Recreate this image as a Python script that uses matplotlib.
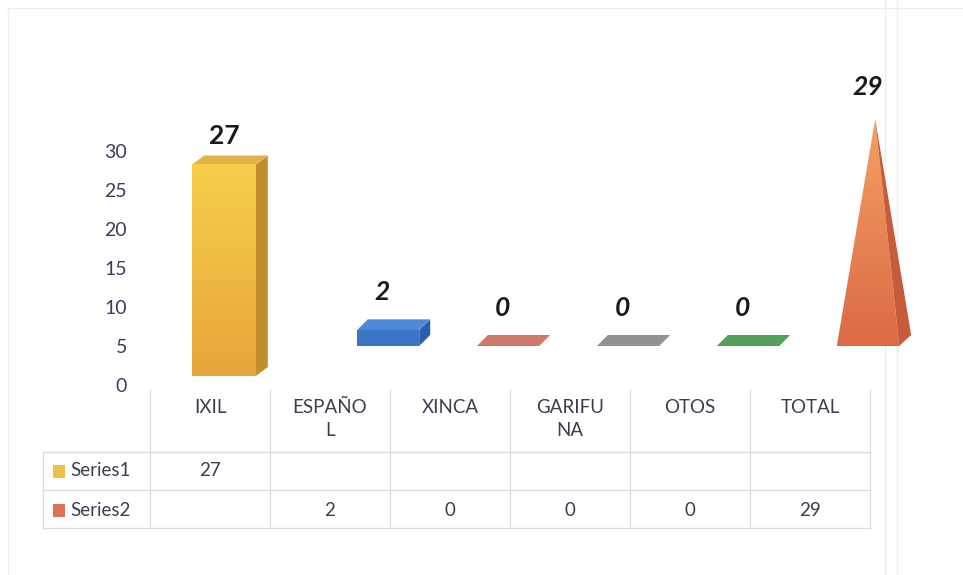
import numpy as np
import matplotlib
matplotlib.use("Agg")
import matplotlib.pyplot as plt
from matplotlib.patches import Polygon
from matplotlib.colors import LinearSegmentedColormap
from matplotlib.transforms import offset_copy

# datos
categories = ["IXIL", "ESPAÑO\nL", "XINCA", "GARIFU\nNA", "OTOS", "TOTAL"]
series1 = [27, None, None, None, None, None]
series2 = [None, 2, 0, 0, 0, 29]
series_names = ["Series1", "Series2"]
yticks = [0, 5, 10, 15, 20, 25, 30]

plt.rcParams["font.family"] = ["Lato", "DejaVu Sans"]

W, H = 963, 575
fig = plt.figure(figsize=(W / 100, H / 100), dpi=100, facecolor="white")

# ejes principales: 0 en y=387px, 30 en y=152px; columnas de 120px desde x=150
ax = fig.add_axes([150 / W, (H - 387) / H, 720 / W, (387 - 152) / H])
ax.set_xlim(-0.5, 5.5)
ax.set_ylim(0, 30)
ax.axis("off")
for t in yticks:
    ax.text(-0.5, t, str(t), transform=offset_copy(ax.transData, fig, x=-23, y=0, units="dots"),
            ha="right", va="center", fontsize=14, color="#3d3d5c")

PX_X = 120.0               # px por unidad x
PX_Y = (387 - 152) / 30.0  # px por unidad y
grad = np.linspace(0, 1, 100).reshape(-1, 1)


def box(tr, xc, v, w, dpx, dpy, front, top, side, z=3):
    """Columna 3D: cara frontal, superior y lateral."""
    ddx, ddy = dpx / PX_X, dpy / PX_Y
    x0, x1 = xc - w / 2, xc + w / 2
    if v > 0:
        ax.add_patch(Polygon([(x0, 0), (x1, 0), (x1, v), (x0, v)], closed=True,
                             fc=front, ec="none", transform=tr, clip_on=False, zorder=z))
        ax.add_patch(Polygon([(x1, 0), (x1 + ddx, ddy), (x1 + ddx, v + ddy), (x1, v)],
                             closed=True, fc=side, ec="none", transform=tr, clip_on=False, zorder=z))
    ax.add_patch(Polygon([(x0, v), (x1, v), (x1 + ddx, v + ddy), (x0 + ddx, v + ddy)],
                         closed=True, fc=top, ec="none", transform=tr, clip_on=False, zorder=z))


# Series1: columna amarilla (fila delantera)
tr1 = offset_copy(ax.transData, fig, x=14, y=11, units="dots")
for i, v in enumerate(series1):
    if v is None:
        continue
    w = 0.53
    x0, x1 = i - w / 2, i + w / 2
    ax.imshow(grad, cmap=LinearSegmentedColormap.from_list("y", ["#e8a53a", "#f6cf4c"]),
              origin="lower", extent=(x0, x1, 0, v), aspect="auto", transform=tr1,
              zorder=3, clip_on=False)
    box(tr1, i, v, w, 12, 9, "none", "#e2b448", "#c28d2c", z=2)
    ax.text(i, v, f"{v}", transform=offset_copy(ax.transData, fig, x=14, y=11 + 28, units="dots"),
            ha="center", va="center", fontsize=19, fontweight="bold", color="#1a1a1a")

# Series2: fila de fondo
tr2 = offset_copy(ax.transData, fig, x=58, y=41, units="dots")
flat_cols = ["#3c74c4", "#cc7462", "#8c8c8c", "#4f9a55"]
top_cols = ["#4f88d8", "#cf7a68", "#929292", "#55a05a"]
side_cols = ["#2d5fa8", "#b86352", "#7a7a7a", "#43874a"]
for i, v in enumerate(series2):
    if v is None:
        continue
    w = 0.52
    if i < 5:
        k = i - 1
        box(tr2, i, v, w, 11, 11, flat_cols[k], top_cols[k], side_cols[k])
        ax.text(i, v, f"{v}", transform=offset_copy(ax.transData, fig, x=52, y=41 + 38, units="dots"),
                ha="center", va="center", fontsize=19, fontweight="bold", style="italic",
                color="#1a1a1a")
    else:
        # piramide TOTAL
        x0, x1 = i - w / 2, i + w / 2
        apex = (i + 0.06, v)
        ddx, ddy = 12 / PX_X, 11 / PX_Y
        front = Polygon([(x0, 0), (x1, 0), apex], closed=True, fc="none", ec="none",
                        transform=tr2, clip_on=False)
        ax.add_patch(front)
        im = ax.imshow(grad, cmap=LinearSegmentedColormap.from_list("o", ["#dc6a45", "#f3a163"]),
                       origin="lower", extent=(x0, x1, 0, v), aspect="auto",
                       transform=tr2, zorder=3)
        im.set_clip_box(fig.bbox)
        im.set_clip_path(front)
        im.set_clip_on(True)
        ax.add_patch(Polygon([(x1, 0), (x1 + ddx, ddy), apex], closed=True, fc="#c65c3a",
                             ec="none", transform=tr2, clip_on=False, zorder=3))
        ax.text(i, v, f"{v}", transform=offset_copy(ax.transData, fig, x=58, y=41 + 32, units="dots"),
                ha="center", va="center", fontsize=19, fontweight="bold", style="italic",
                color="#1a1a1a")

ax.set_xlim(-0.5, 5.5)
ax.set_ylim(0, 30)

# tabla de datos
tab = fig.add_axes([0, 0, 1, 1], zorder=-1)
tab.set_xlim(0, W)
tab.set_ylim(H, 0)
tab.axis("off")
gc = "#dcdcdc"
edges = [150 + 120 * k for k in range(7)]
for x in edges:
    tab.plot([x, x], [390, 528], color=gc, lw=0.9)
tab.plot([43, 43], [452, 528], color=gc, lw=0.9)
for y in (452, 490, 528):
    tab.plot([43, edges[-1]], [y, y], color=gc, lw=0.9)

tc = "#3d3d4f"
for i, c in enumerate(categories):
    tab.text(210 + 120 * i, 399, c, ha="center", va="top", fontsize=13.5, color=tc,
             linespacing=1.45)
key_cols = ["#f0bf45", "#dd7058"]
for r, (name, vals) in enumerate(zip(series_names, [series1, series2])):
    y = 471 + 39 * r
    tab.add_patch(plt.Rectangle((53, y - 6.5), 12, 13, fc=key_cols[r], ec="none"))
    tab.text(70, y, name, ha="left", va="center", fontsize=13.5, color=tc)
    for i, v in enumerate(vals):
        if v is not None:
            tab.text(210 + 120 * i, y, str(v), ha="center", va="center", fontsize=13.5, color=tc)

# marco tenue del escaneo
fc = "#ededed"
tab.plot([8, 963], [8, 8], color=fc, lw=1)
tab.plot([8, 8], [8, 575], color=fc, lw=1)
tab.plot([885, 885], [0, 575], color=fc, lw=1)
tab.plot([897, 897], [0, 575], color=fc, lw=1)

fig.savefig("out.png", dpi=100, facecolor="white")
